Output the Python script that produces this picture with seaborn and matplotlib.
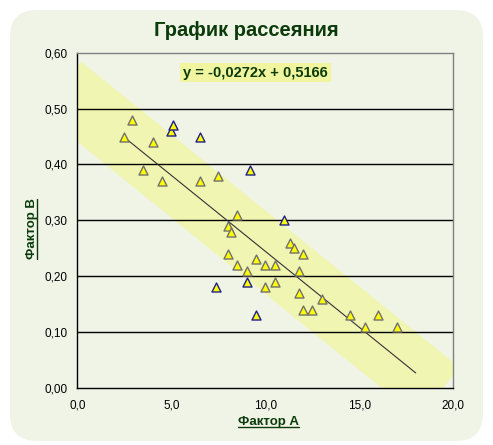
import numpy as np
import matplotlib.pyplot as plt
import pandas as pd
import seaborn as sns
from matplotlib.patches import FancyBboxPatch, Polygon
from matplotlib.lines import Line2D

factor_a = [2.5, 2.9, 3.5, 4.0, 4.5, 5.0, 5.1, 6.5, 6.5, 7.5, 9.2,
            8.5, 11.0, 8.0, 8.2, 11.3, 11.5, 12.0, 8.0, 8.5, 9.5, 10.0,
            10.5, 9.0, 11.8, 7.4, 9.0, 10.0, 10.5, 11.8, 13.0, 12.0, 12.5,
            9.5, 14.5, 16.0, 15.3, 17.0]
factor_b = [0.45, 0.48, 0.39, 0.44, 0.37, 0.46, 0.47, 0.45, 0.37, 0.38, 0.39,
            0.31, 0.30, 0.29, 0.28, 0.26, 0.25, 0.24, 0.24, 0.22, 0.23, 0.22,
            0.22, 0.21, 0.21, 0.18, 0.19, 0.18, 0.19, 0.17, 0.16, 0.14, 0.14,
            0.13, 0.13, 0.13, 0.11, 0.11]

slope = -0.0272
intercept = 0.5166
line_x = [2.5, 18.0]
band_half = 0.075

x_ticks = [0, 5, 10, 15, 20]
y_ticks = [0.0, 0.1, 0.2, 0.3, 0.4, 0.5, 0.6]

sns.set_style("white")
plt.rcParams['font.family'] = ['Liberation Sans', 'DejaVu Sans']

bg = '#F0F4E6'
green = '#0B3B0B'

df = pd.DataFrame({'a': factor_a, 'b': factor_b})
df['outside'] = (df['b'] - (slope * df['a'] + intercept)).abs() > band_half

fig = plt.figure(figsize=(4.93, 4.45), dpi=100)
fig.patch.set_facecolor('white')
fig.patches.append(FancyBboxPatch((10 / 493, 4 / 445), 473 / 493, 431 / 445,
                                  boxstyle="round,pad=0,rounding_size=0.055",
                                  transform=fig.transFigure, facecolor=bg,
                                  edgecolor='none', zorder=-10,
                                  mutation_aspect=493 / 445))

ax = fig.add_axes([77.3 / 493, 57 / 445, 376 / 493, 335.3 / 445])
ax.set_facecolor(bg)

# band around the trend line (rectangle with square ends)
band = Polygon([(0.2, 0.584), (20.34, 0.0367), (18.15, -0.0535), (-1.98, 0.4948)],
               closed=True, facecolor='#F1F5B2', edgecolor='none', zorder=1)
ax.add_patch(band)

for yv in y_ticks[1:-1]:
    ax.axhline(yv, color='black', lw=1.0, zorder=2)

lx = np.array(line_x)
sns.lineplot(x=lx, y=slope * lx + intercept, ax=ax, color='#333333', lw=0.8, zorder=3)

inside = df[~df['outside']]
outside = df[df['outside']]
sns.scatterplot(data=inside, x='a', y='b', ax=ax, marker='^', s=42,
                color='#FFFF00', edgecolor='#707070', linewidth=1.0, zorder=4)
sns.scatterplot(data=outside, x='a', y='b', ax=ax, marker='^', s=42,
                color='#FFFF00', edgecolor='#20208A', linewidth=1.0, zorder=4)

ax.set_xlim(0, 20)
ax.set_ylim(0, 0.6)
ax.set_xticks(x_ticks)
ax.set_yticks(y_ticks)
ax.set_xticklabels([f"{v:.1f}".replace('.', ',') for v in x_ticks])
ax.set_yticklabels([f"{v:.2f}".replace('.', ',') for v in y_ticks])
ax.tick_params(axis='both', direction='out', length=4, width=1, color='black',
               labelsize=8.5, labelcolor='black', pad=3)
ax.tick_params(axis='x', pad=4)

for s in ['left', 'bottom']:
    ax.spines[s].set_color('black')
    ax.spines[s].set_linewidth(1.0)
for s in ['top', 'right']:
    ax.spines[s].set_visible(True)
    ax.spines[s].set_color('#808080')
    ax.spines[s].set_linewidth(1.0)

ax.set_xlabel('')
ax.set_ylabel('')

eq = f"y = {slope:.4f}x + {intercept:.4f}".replace('.', ',')
ax.text(255.5 / 493, 1 - 72.5 / 445, eq, transform=fig.transFigure, ha='center', va='center',
        fontsize=10.5, fontweight='bold', color=green, zorder=6,
        bbox=dict(boxstyle='square,pad=0.2', facecolor='#F1F5A0', edgecolor='none'))

fig.text(246 / 493, 1 - 30 / 445, 'График рассеяния', ha='center', va='center',
         fontsize=14.5, fontweight='bold', color=green)

xl = fig.text(268 / 493, 1 - 422 / 445, 'Фактор А', ha='center', va='center',
              fontsize=9.5, fontweight='bold', color=green)
yl = fig.text(32 / 493, 1 - 229 / 445, 'Фактор В', ha='center', va='center',
              rotation=90, fontsize=9.5, fontweight='bold', color=green)

# underline the axis titles
fig.canvas.draw()
r = fig.canvas.get_renderer()
inv = fig.transFigure.inverted()
bb = xl.get_window_extent(r)
(x0, y0), (x1, _) = inv.transform([(bb.x0, bb.y0 + 1), (bb.x1, bb.y0 + 1)])
fig.add_artist(Line2D([x0, x1], [y0, y0], transform=fig.transFigure, color=green, lw=1))
bb = yl.get_window_extent(r)
(x0, y0), (_, y1) = inv.transform([(bb.x1 - 1, bb.y0), (bb.x1 - 1, bb.y1)])
fig.add_artist(Line2D([x0, x0], [y0, y1], transform=fig.transFigure, color=green, lw=1))

fig.savefig('out.png', dpi=100, facecolor='white')
